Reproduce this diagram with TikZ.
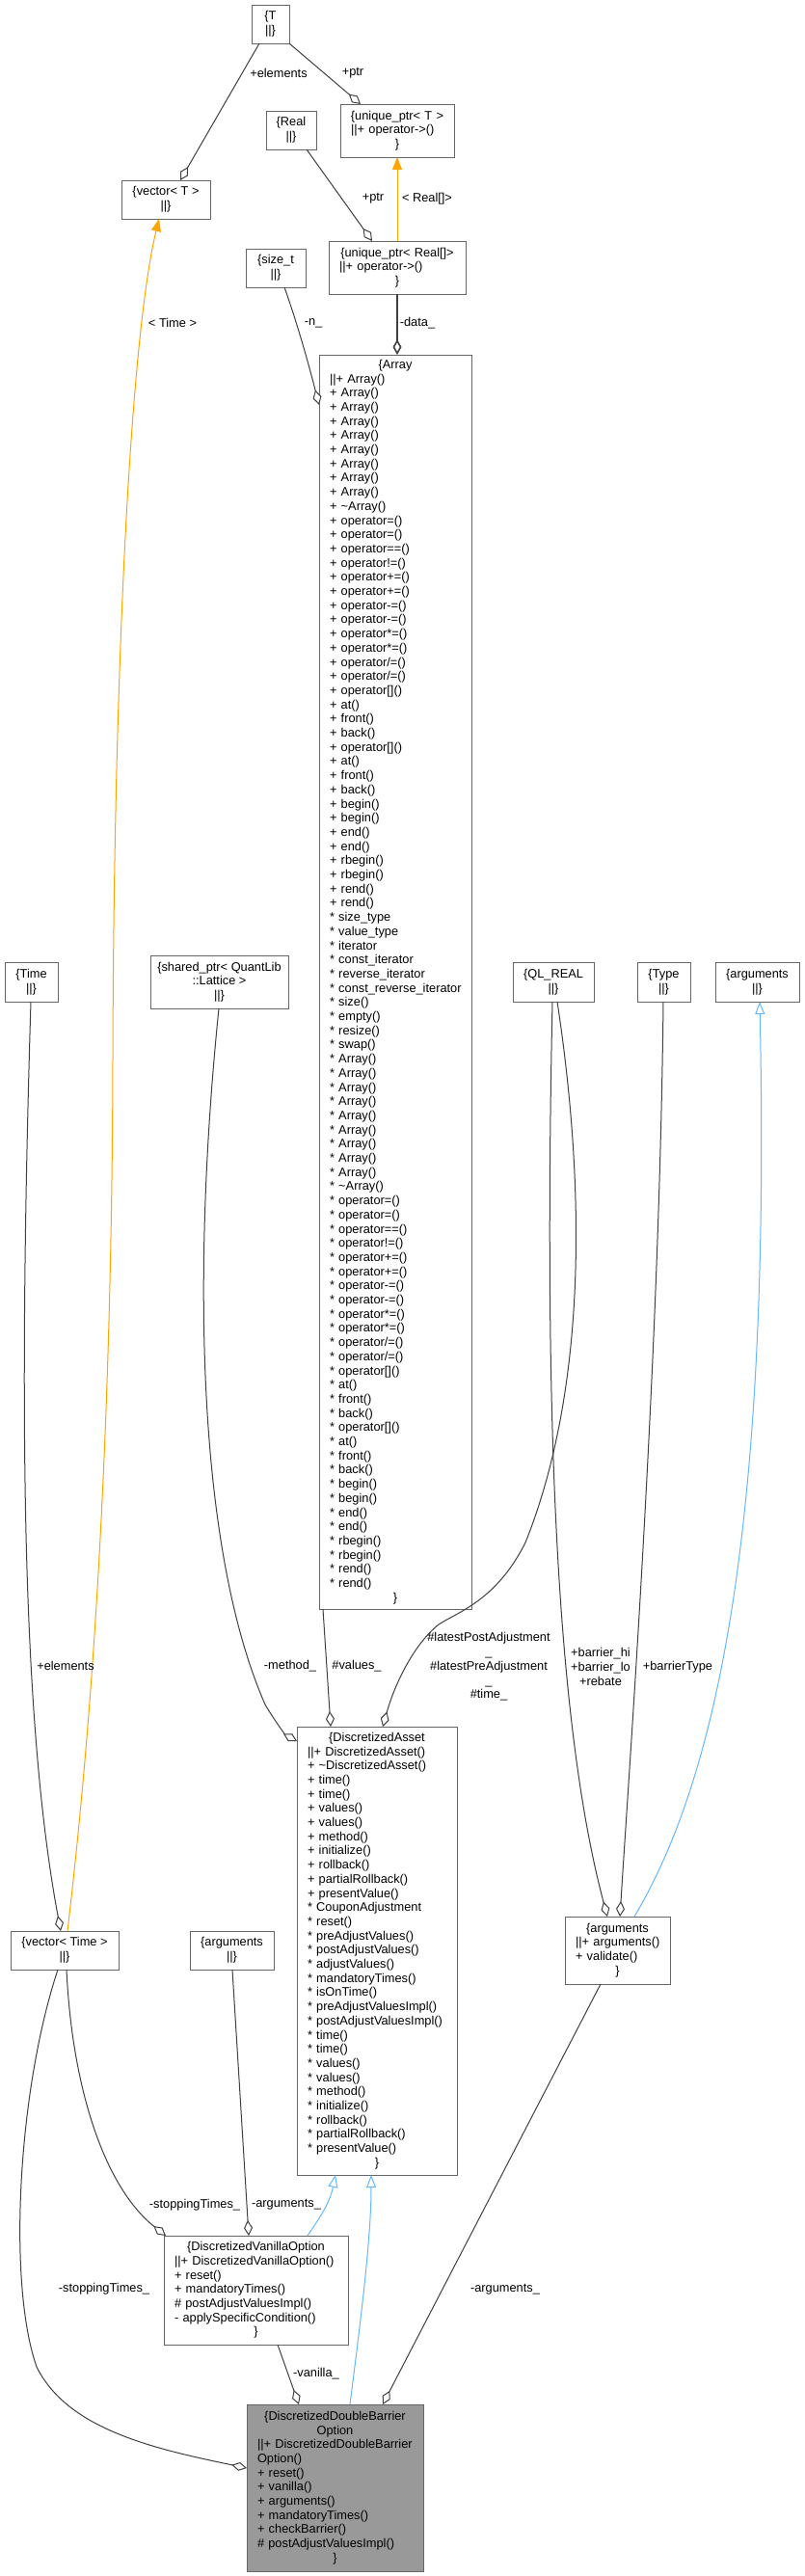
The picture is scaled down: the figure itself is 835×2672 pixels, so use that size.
\documentclass[tikz,border=0pt]{standalone}
\usepackage{fontspec}
\setmainfont{Liberation Sans}
\usetikzlibrary{arrows.meta}
\hyphenpenalty=10000
\exhyphenpenalty=10000
\definecolor{edgec}{HTML}{404040}
\definecolor{boxc}{HTML}{666666}
\definecolor{inhc}{HTML}{63B8FF}
\definecolor{tplc}{HTML}{FFA500}
\definecolor{mainc}{HTML}{999999}
\newcommand\fnt{\fontsize{12.8}{14.7}\selectfont}
\newcommand\ctl[1]{\makebox[\linewidth][c]{#1}}
\newcommand\mpr{{*}~}
\begin{document}
\begin{tikzpicture}[x=1pt,y=-1pt,
  umlbox/.style={draw=boxc, fill=white, line width=1pt, font=\fnt, anchor=north west,
    align=center, inner xsep=2pt, inner ysep=0pt, outer sep=0pt},
  cls/.style={umlbox, align=left, inner xsep=11pt},
  lbl/.style={font=\fnt, inner sep=0pt, align=center, text=black},
  agg/.style={draw=edgec, line width=1pt, -{Diamond[length=16pt,width=9pt,fill=white]}},
  inh/.style={draw=inhc, line width=1pt, -{Triangle[length=13pt,width=10pt,fill=white]}},
  tpl/.style={draw=tplc, line width=1pt, -{Triangle[length=13pt,width=10pt,fill=tplc]}}]
\fill[white] (0,0) rectangle (835,2672);
\path[use as bounding box] (0,0) rectangle (835,2672);

% ---------- nodes ----------
\node[umlbox, minimum width=39pt, minimum height=40pt] (T) at (261,5) {\{T\\||\}};
\node[umlbox, minimum width=52pt, minimum height=40pt] (Re) at (276,115) {\{Real\\||\}};
\node[cls, text width=96pt, minimum height=55pt] (uT) at (353,108)
  {\ctl{\{unique\_ptr< T >}\\||+~operator->()\\\ctl{\}}};
\node[umlbox, minimum width=92pt, minimum height=40pt] (vT) at (126,187) {\{vector< T >\\||\}};
\node[cls, text width=120pt, minimum height=55pt] (uR) at (341,250)
  {\ctl{\{unique\_ptr< Real[]>}\\||+~operator->()\\\ctl{\}}};
\node[umlbox, minimum width=62pt, minimum height=40pt] (sz) at (255,258) {\{size\_t\\||\}};

\node[cls, text width=136pt, minimum height=1301pt] (Arr) at (331,368) {\ctl{\{Array}\\
||+~Array()\\+~Array()\\+~Array()\\+~Array()\\+~Array()\\+~Array()\\+~Array()\\+~Array()\\+~Array()\\
+~\textasciitilde Array()\\
+~operator=()\\+~operator=()\\+~operator==()\\+~operator!=()\\
+~operator+=()\\+~operator+=()\\+~operator-=()\\+~operator-=()\\
+~operator*=()\\+~operator*=()\\+~operator/=()\\+~operator/=()\\
+~operator[]()\\+~at()\\+~front()\\+~back()\\+~operator[]()\\+~at()\\+~front()\\+~back()\\
+~begin()\\+~begin()\\+~end()\\+~end()\\+~rbegin()\\+~rbegin()\\+~rend()\\+~rend()\\
\mpr size\_type\\\mpr value\_type\\\mpr iterator\\\mpr const\_iterator\\\mpr reverse\_iterator\\\mpr const\_reverse\_iterator\\
\mpr size()\\\mpr empty()\\\mpr resize()\\\mpr swap()\\
\mpr Array()\\\mpr Array()\\\mpr Array()\\\mpr Array()\\\mpr Array()\\\mpr Array()\\\mpr Array()\\\mpr Array()\\\mpr Array()\\
\mpr \textasciitilde Array()\\
\mpr operator=()\\\mpr operator=()\\\mpr operator==()\\\mpr operator!=()\\
\mpr operator+=()\\\mpr operator+=()\\\mpr operator-=()\\\mpr operator-=()\\
\mpr operator*=()\\\mpr operator*=()\\\mpr operator/=()\\\mpr operator/=()\\
\mpr operator[]()\\\mpr at()\\\mpr front()\\\mpr back()\\\mpr operator[]()\\\mpr at()\\\mpr front()\\\mpr back()\\
\mpr begin()\\\mpr begin()\\\mpr end()\\\mpr end()\\\mpr rbegin()\\\mpr rbegin()\\\mpr rend()\\\mpr rend()\\
\ctl{\}}};

\node[umlbox, minimum width=55pt, minimum height=41pt] (Tm) at (5,998) {\{Time\\||\}};
\node[umlbox, minimum width=143pt, minimum height=55pt] (sp) at (156,991) {\{shared\_ptr< QuantLib\\::Lattice >\\||\}};
\node[umlbox, minimum width=84pt, minimum height=41pt] (QL) at (532,998) {\{QL\_REAL\\||\}};
\node[umlbox, minimum width=55pt, minimum height=41pt] (Ty) at (661,998) {\{Type\\||\}};
\node[umlbox, minimum width=87pt, minimum height=41pt] (aT) at (742,998) {\{arguments\\||\}};

\node[cls, text width=144pt, minimum height=465pt] (DA) at (308,1791) {\ctl{\{DiscretizedAsset}\\
||+~DiscretizedAsset()\\+~\textasciitilde DiscretizedAsset()\\+~time()\\+~time()\\+~values()\\+~values()\\
+~method()\\+~initialize()\\+~rollback()\\+~partialRollback()\\+~presentValue()\\
\mpr CouponAdjustment\\\mpr reset()\\\mpr preAdjustValues()\\\mpr postAdjustValues()\\\mpr adjustValues()\\
\mpr mandatoryTimes()\\\mpr isOnTime()\\\mpr preAdjustValuesImpl()\\\mpr postAdjustValuesImpl()\\
\mpr time()\\\mpr time()\\\mpr values()\\\mpr values()\\\mpr method()\\\mpr initialize()\\
\mpr rollback()\\\mpr partialRollback()\\\mpr presentValue()\\\ctl{\}}};

\node[umlbox, minimum width=112pt, minimum height=40pt] (vTm) at (11,2003) {\{vector< Time >\\||\}};
\node[umlbox, minimum width=87pt, minimum height=40pt] (aL) at (197,2003) {\{arguments\\||\}};
\node[cls, text width=87pt, minimum height=70pt] (aR) at (586,1988)
  {\ctl{\{arguments}\\||+~arguments()\\+~validate()\\\ctl{\}}};

\node[cls, text width=169pt, minimum height=113pt] (DVO) at (170,2319) {\ctl{\{DiscretizedVanillaOption}\\
||+~DiscretizedVanillaOption()\\+~reset()\\+~mandatoryTimes()\\\#~postAdjustValuesImpl()\\
-~applySpecificCondition()\\\ctl{\}}};

\node[cls, fill=mainc, text width=161pt, minimum height=173pt] (DDBO) at (256,2494) {\ctl{\{DiscretizedDoubleBarrier}\\
\ctl{Option}\\||+~DiscretizedDoubleBarrier\\Option()\\+~reset()\\+~vanilla()\\+~arguments()\\
+~mandatoryTimes()\\+~checkBarrier()\\\#~postAdjustValuesImpl()\\\ctl{\}}};

% ---------- connectors ----------
\draw[agg] (T.south -| 269,0) -- (vT.north -| 187,0);
\draw[agg] (T.south east) -- (uT.north -| 374,0);
\draw[agg] (Re.south -| 318,0) -- (uR.north -| 386,0);
\draw[tpl] (uR.north -| 412,0) -- (uT.south -| 412,0);
\draw[agg, line width=1.6pt] (uR.south -| 412,0) -- (Arr.north -| 412,0);
\draw[agg] (sz.south -| 295,0) .. controls (310,340) and (322,385) .. (Arr.west |- 0,420);
\draw[tpl] (vTm.north -| 70,0) .. controls (100,1750) and (116,1450) .. (117,1100)
   .. controls (118,700) and (135,350) .. (vT.south -| 165,0);
\draw[agg] (Tm.south -| 32,0) .. controls (18,1500) and (25,1800) .. (vTm.north -| 63,0);
\draw[agg] (sp.south -| 227,0) .. controls (196,1350) and (210,1620) .. (275,1768)
   .. controls (288,1790) and (297,1800) .. (DA.west |- 0,1806);
\draw[agg] (Arr.south -| 335,0) -- (DA.north -| 343,0);
\draw[agg] (QL.south -| 578,0) .. controls (610,1250) and (605,1450) .. (545,1600)
   .. controls (515,1660) and (475,1672) .. (455,1685)
   .. controls (430,1705) and (410,1745) .. (DA.north -| 397,0);
\draw[agg] (QL.south -| 573,0) .. controls (563,1500) and (580,1800) .. (aR.north -| 630,0);
\draw[agg] (Ty.south -| 688,0) .. controls (684,1400) and (655,1800) .. (aR.north -| 643,0);
\draw[inh] (aR.north -| 658,0) .. controls (740,1850) and (800,1600) .. (aT.south -| 788,0);
\draw[agg] (vTm.south -| 60,0) .. controls (18,2170) and (8,2370) .. (38,2455)
   .. controls (70,2520) and (160,2540) .. (DDBO.west |- 0,2560);
\draw[agg] (vTm.south -| 69,0) .. controls (75,2170) and (110,2270) .. (DVO.north -| 172,0);
\draw[agg] (aL.south -| 241,0) -- (DVO.north -| 258,0);
\draw[inh] (DVO.north -| 319,0) .. controls (332,2300) and (342,2285) .. (DA.south -| 348,0);
\draw[inh] (DDBO.north -| 363,0) .. controls (375,2400) and (385,2320) .. (DA.south -| 385,0);
\draw[agg] (DVO.south -| 288,0) -- (DDBO.north -| 310,0);
\draw[agg] (aR.south -| 623,0) -- (DDBO.north -| 397,0);

% ---------- labels ----------
\node[lbl] (l1) at (289,76) {+elements};
\node[lbl] (l2) at (366,76) {+ptr};
\node[lbl] (l3) at (387,206) {+ptr};
\node[lbl] (l4) at (443,206) {< Real[]>};
\node[lbl] (l5) at (179,335) {< Time >};
\node[lbl] (l6) at (325,335) {-n\_};
\node[lbl] (l7) at (433,335) {-data\_};
\node[lbl] (l8) at (68,1728) {+elements};
\node[lbl] (l9) at (301,1728) {-method\_};
\node[lbl] (l10) at (370,1728) {\#values\_};
\node[lbl] (l11) at (507,1729) {\#latestPostAdjustment\\\_\\\#latestPreAdjustment\\\_\\\#time\_};
\node[lbl] (l12) at (623,1729) {+barrier\_hi\\+barrier\_lo\\+rebate};
\node[lbl] (l13) at (703,1729) {+barrierType};
\node[lbl] (l14) at (202,2287) {-stoppingTimes\_};
\node[lbl] (l15) at (297,2287) {-arguments\_};
\node[lbl] (l16) at (108,2374) {-stoppingTimes\_};
\node[lbl] (l17) at (328,2462) {-vanilla\_};
\node[lbl] (l18) at (524,2375) {-arguments\_};
\end{tikzpicture}
\end{document}
